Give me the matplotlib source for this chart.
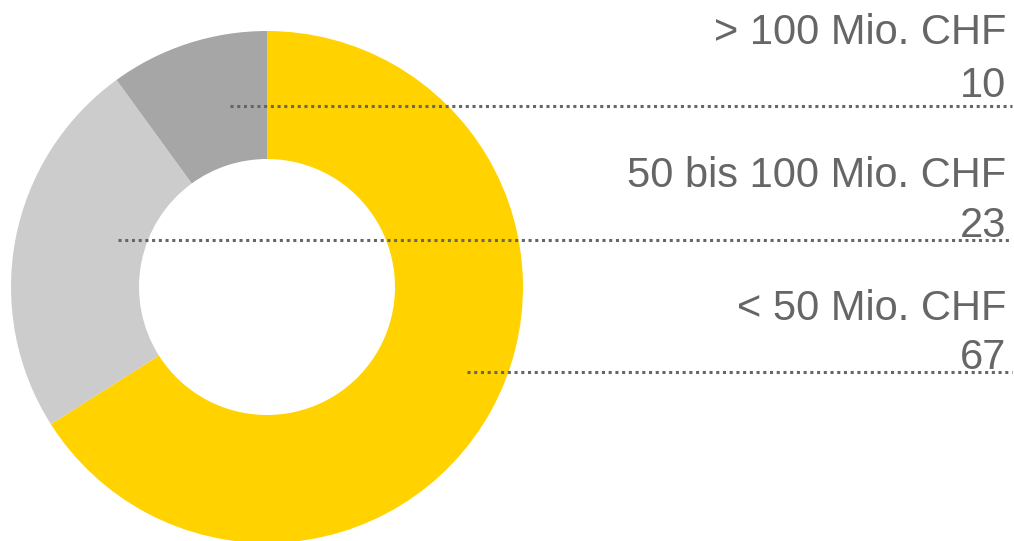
import matplotlib
matplotlib.use("Agg")
import matplotlib.pyplot as plt

categories = ["< 50 Mio. CHF", "50 bis 100 Mio. CHF", "> 100 Mio. CHF"]
# wedge sizes as drawn in the picture (shares in %)
wedge_values = [66, 24, 10]
# value labels as printed in the picture
value_labels = ["67", "23", "10"]
colors = ["#FFD200", "#CCCCCC", "#A6A6A6"]

plt.rcParams['font.family'] = ['Liberation Sans', 'DejaVu Sans']

W, H = 1014, 541
fig = plt.figure(figsize=(W / 100, H / 100), dpi=100)
ax = fig.add_axes([0, 0, 1, 1])

def fy(y):
    # convert pixel y (from top) to axis y (from bottom)
    return H - y

cx, cy, R = 267, 287, 256
ax.pie(wedge_values, colors=colors, startangle=90, counterclock=False,
       center=(cx, fy(cy)), radius=R, frame=True,
       wedgeprops=dict(width=R * 0.5, linewidth=0))
ax.set_xlim(0, W)
ax.set_ylim(0, H)
ax.set_aspect('equal')
ax.axis('off')

# leader lines (start x, y) and label baselines
line_y = [372, 240, 106]
line_x0 = [467, 118, 230]
label_base = [320, 187, 44]
value_base = [369, 237, 97]
text_color = "#666666"

for cat, v, ly, lx, lb, vb in zip(categories, value_labels, line_y, line_x0, label_base, value_base):
    ax.plot([lx, 1012], [fy(ly), fy(ly)], linestyle=(0, (1, 1.2)), color="#666666", linewidth=2.2,
            dash_capstyle='butt')
    ax.text(1006, fy(lb), cat, ha='right', va='baseline', fontsize=30, color=text_color)
    ax.text(1006, fy(vb), v, ha='right', va='baseline', fontsize=30, color=text_color)

fig.savefig("out.png", dpi=100)
